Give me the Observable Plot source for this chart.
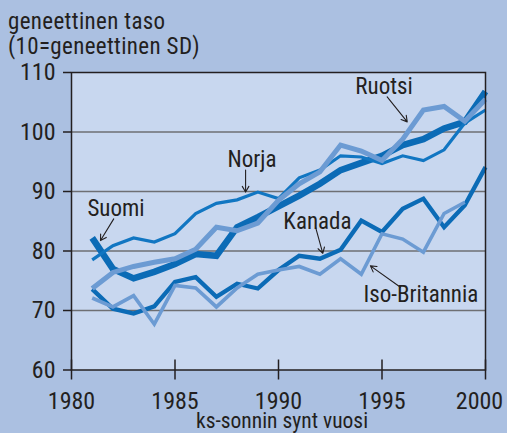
<!DOCTYPE html>
<html><head><meta charset="utf-8">
<script src="https://cdn.jsdelivr.net/npm/d3@7"></script>
<script src="https://cdn.jsdelivr.net/npm/@observablehq/plot@0.6"></script>
<style>
html,body{margin:0;padding:0;background:#abc0e1;width:507px;height:433px;overflow:hidden;}
#title{font-family:"Liberation Sans Narrow","Arial Narrow","Roboto Condensed",sans-serif;font-size:23px;line-height:24.5px;letter-spacing:0.35px;color:#231f20;padding:10px 0 0 8px;height:52px;box-sizing:content-box;white-space:nowrap;}
#chart svg{display:block;}
</style></head><body>
<div id="title">geneettinen taso<br>(10=geneettinen SD)</div>
<div id="chart"></div>
<script>
const years = [1981,1982,1983,1984,1985,1986,1987,1988,1989,1990,1991,1992,1993,1994,1995,1996,1997,1998,1999,2000];
const suomi = [82.2,77.0,75.4,76.5,77.8,79.5,79.2,84.0,85.7,87.5,89.3,91.3,93.6,94.8,96.0,97.8,98.8,100.6,101.7,106.8];
const norja = [78.5,80.9,82.2,81.5,82.9,86.3,88.0,88.6,89.9,88.8,92.3,93.6,96.0,95.8,94.7,96.0,95.2,97.0,101.5,103.7];
const ruotsi = [73.7,76.4,77.4,78.1,78.7,80.3,84.0,83.4,84.7,88.5,91.3,93.3,97.8,96.8,95.2,98.8,103.7,104.3,101.8,105.5];
const kanada = [73.6,70.3,69.5,70.7,74.8,75.6,72.3,74.5,73.7,76.8,79.2,78.7,80.2,85.1,83.2,87.1,88.8,84.0,87.7,94.1];
const isoBritannia = [72.1,70.6,72.5,67.7,74.2,73.8,70.6,73.8,76.1,76.8,77.4,76.1,78.7,76.1,82.9,82.0,79.8,86.3,88.2,null];

const xTicks = [1980,1985,1990,1995,2000];
const yTicks = [60,70,80,90,100,110];
const gridTicks = [70,80,90,100];

const labelNames = ["Ruotsi","Norja","Suomi","Kanada","Iso-Britannia"];
const labelX = [1995.1,1988.72,1982.15,1991.88,1996.88];
const labelY = [107.55,95.4,87.1,85.0,72.6];
const arrowX1 = [1995.25,1988.41,1982.04,1991.79,1995.89];
const arrowY1 = [105.9,93.6,85.4,84.0,73.9];
const arrowX2 = [1996.22,1988.41,1981.40,1992.14,1994.44];
const arrowY2 = [101.7,89.9,81.75,79.6,77.5];

const xLabel = "ks-sonnin synt vuosi";

const series = [
  {name:"Suomi", values:suomi},
  {name:"Kanada", values:kanada},
  {name:"Norja", values:norja},
  {name:"Ruotsi", values:ruotsi},
  {name:"Iso-Britannia", values:isoBritannia}
];
const style = {
  "Suomi": {stroke:"#0b6bb6", strokeWidth:6.5},
  "Kanada": {stroke:"#0b6bb6", strokeWidth:4.3},
  "Norja": {stroke:"#1176c2", strokeWidth:3.2},
  "Ruotsi": {stroke:"#6c9bd3", strokeWidth:5},
  "Iso-Britannia": {stroke:"#6c9bd3", strokeWidth:3.6}
};

const ink = "#231f20";
const font = '"Liberation Sans Narrow","Arial Narrow","Roboto Condensed",sans-serif';

const lineMarks = series.map(s => Plot.line(
  years.map((yr,i) => ({year: yr, value: s.values[i]})),
  {x:"year", y:"value", stroke: style[s.name].stroke, strokeWidth: style[s.name].strokeWidth,
   strokeLinejoin:"miter", strokeLinecap:"butt", strokeMiterlimit: 3}
));

const labels = labelNames.map((n,i)=>({name:n, x:labelX[i], y:labelY[i]}));
const arrows = labelNames.map((n,i)=>({x1:arrowX1[i], y1:arrowY1[i], x2:arrowX2[i], y2:arrowY2[i]}));

const chart = Plot.plot({
  width: 507,
  height: 371,
  marginLeft: 71,
  marginRight: 22,
  marginTop: 10,
  marginBottom: 63.5,
  style: {background:"transparent", fontFamily: font, color: ink, overflow:"visible"},
  x: {domain:[1980,2000]},
  y: {domain:[60,110]},
  marks: [
    Plot.frame({fill:"#c8d7ef", stroke:null}),
    Plot.gridY(gridTicks, {stroke:"#6e6f73", strokeOpacity:1, strokeWidth:1.5}),
    ...lineMarks,
    Plot.arrow(arrows, {x1:"x1", y1:"y1", x2:"x2", y2:"y2", stroke: ink, strokeWidth:1.1, headLength:9, bend:0}),
    Plot.text(labels, {x:"x", y:"y", text:"name", fontSize:23, fill: ink, textAnchor:"middle", lineAnchor:"middle"}),
    Plot.frame({stroke: ink, strokeWidth:1.5}),
    Plot.axisY({ticks: yTicks, tickSize:8, tickPadding:8, fontSize:24, label:null, strokeWidth:1.5}),
    Plot.axisX({ticks: xTicks, tickSize:20, dy:-10, tickFormat: () => "", label:null, strokeWidth:1.5}),
    Plot.axisX({ticks: xTicks.slice(0, -1), tickSize:0, tickPadding:21.5, fontSize:24, label:null, tickFormat: d => String(d)}),
    Plot.axisX({ticks: xTicks.slice(-1), tickSize:0, tickPadding:21.5, fontSize:24, label:null, dx:-6, tickFormat: d => String(d)}),
    Plot.text([xLabel], {frameAnchor:"bottom", text: d => d, dy:51.5, dx:3.5, fontSize:21.5, fill: ink, lineAnchor:"middle"})
  ]
});
document.getElementById("chart").appendChild(chart);
</script>
</body></html>
